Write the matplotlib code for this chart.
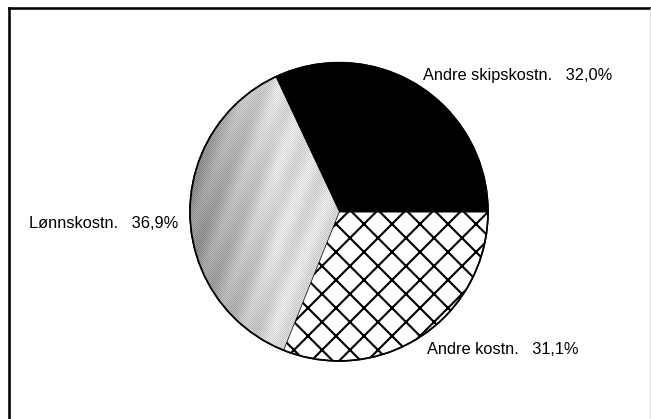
import matplotlib.pyplot as plt
import numpy as np
from matplotlib.patches import Circle
from matplotlib.lines import Line2D

# data
names = ["Andre skipskostn.", "Lønnskostn.", "Andre kostn."]
shares = [32.0, 36.9, 31.1]
hatches = ["", "", "x"]
faces = ["black", "#c8c8c8", "white"]

# label anchors (pixels, y up) and alignment
label_xy = [(423, 344), (178, 196), (427, 70)]
label_ha = ["left", "right", "left"]

W, H, DPI = 651, 419, 84
plt.rcParams['font.family'] = ['Liberation Sans', 'DejaVu Sans']
plt.rcParams['hatch.linewidth'] = 1.8

fig = plt.figure(figsize=(W / DPI, (H + 0.4) / DPI), dpi=DPI)
ax = fig.add_axes([0, 0, 1, 1])

cx, cy, R = 339, 207, 149
wedges, _ = ax.pie(shares, startangle=0, counterclock=True, colors=faces,
                   center=(cx, cy), radius=R,
                   wedgeprops=dict(edgecolor="black", linewidth=1.2))
for w, h in zip(wedges, hatches):
    w.set_hatch(h)

# shaded stipple texture for the wage slice (darker towards the rim)
lw = wedges[1]
X, Y = np.meshgrid(np.arange(150), np.arange(300))
u = X / 149.0
shade = 0.56 + 0.3 * np.clip(u * 1.7, 0, 1) + 0.035 * np.sin(u * 30 - Y / 300 * 25)
shade += 0.05 * (((X + Y) % 2) * 2 - 1)
im = ax.imshow(np.clip(shade, 0, 1), cmap="gray", vmin=0, vmax=1,
               extent=(cx - R, cx + 1, cy - R, cy + R + 1),
               origin="lower", zorder=1.5, aspect="auto", interpolation="nearest")
im.set_clip_path(lw)
ax.add_patch(Circle((cx, cy), R, facecolor="none", edgecolor="black", linewidth=1.5, zorder=3))

for name, val, (tx, ty), ha in zip(names, shares, label_xy, label_ha):
    txt = f"{name}   " + f"{val:.1f}".replace(".", ",") + "%"
    ax.text(tx, ty, txt, ha=ha, va="center", fontsize=14, color="black")

ax.set_aspect("auto")
ax.set_xlim(0, W)
ax.set_ylim(0, H)
ax.axis("off")

# frame
fig.add_artist(Line2D([9 / W, 9 / W], [0, 1 - 8 / H], color="black", linewidth=2.2))
fig.add_artist(Line2D([9 / W, 1], [1 - 8 / H, 1 - 8 / H], color="black", linewidth=2.2))
fig.add_artist(Line2D([649.5 / W, 649.5 / W], [0, 1 - 8 / H], color="#d0d0d0", linewidth=0.6))

fig.savefig("out.png", dpi=DPI, facecolor="white")
